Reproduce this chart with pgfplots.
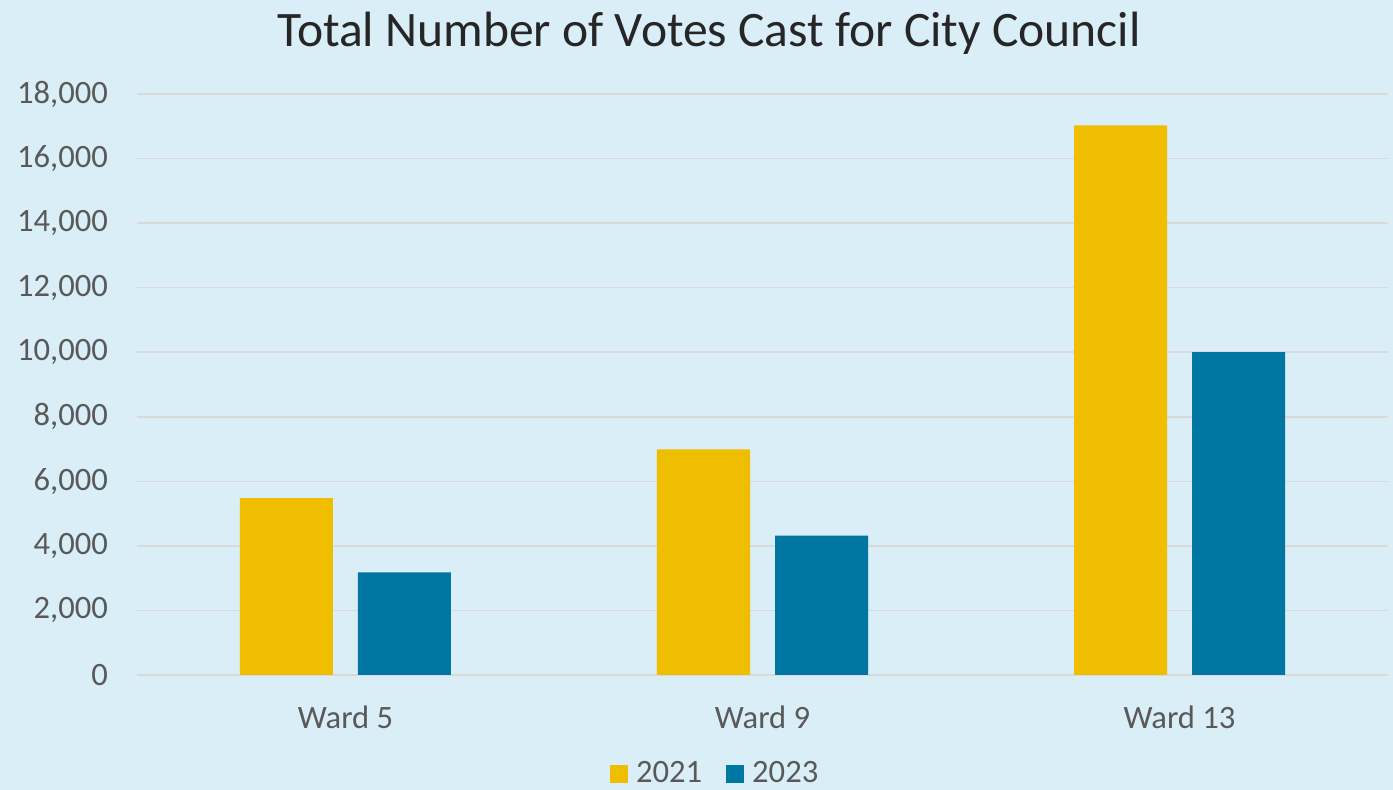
\documentclass[border=0pt]{standalone}
\usepackage{pgfplots}
\pgfplotsset{compat=1.18}
\usepackage{fontspec}
\setmainfont{Carlito}
\definecolor{bg}{HTML}{DAEEF8}
\definecolor{gold}{HTML}{F0BE00}
\definecolor{teal}{HTML}{0076A3}
\definecolor{txt}{HTML}{595959}
\definecolor{titc}{HTML}{262626}
\definecolor{gridc}{HTML}{D9D9D9}
\begin{document}
\begin{tikzpicture}
\useasboundingbox (-68.5pt,-57.5pt) rectangle (628pt,337.5pt);
\fill[bg] (-68.5pt,-57.5pt) rectangle (628pt,337.5pt);
\node[titc, font=\fontsize{24.8}{28}\selectfont] at (286pt,321pt) {Total Number of Votes Cast for City Council};
\begin{axis}[
    scale only axis,
    width=625.5pt, height=290.5pt,
    ybar=12.5pt, bar width=46.5pt,
    xmin=-0.5, xmax=2.5,
    ymin=0, ymax=18000,
    ytick={0,2000,...,18000},
    xtick={0,1,2},
    xticklabels={Ward 5, Ward 9, Ward 13},
    axis line style={draw=none},
    tick style={draw=none},
    ymajorgrids, grid style={gridc, line width=0.75pt},
    tick label style={txt, font=\fontsize{16.3}{19}\selectfont},
    yticklabel style={xshift=-11pt},
    xticklabel style={yshift=-7.5pt},
    /pgf/number format/assume math mode=true,
    /pgf/number format/1000 sep={,},
    scaled y ticks=false,
    legend style={at={(0.463,-0.170)}, anchor=center, draw=none, fill=none,
        legend columns=-1, font=\fontsize{16.3}{19}\selectfont, text=txt,
        /tikz/every even column/.append style={column sep=10pt}},
    legend image code/.code={\fill[#1] (0pt,-4.5pt) rectangle (9pt,4.5pt); \path (11pt,0pt);},
]
\addplot[fill=gold, draw=none] coordinates {(0,5480) (1,6990) (2,17030)};
\addplot[fill=teal, draw=none] coordinates {(0,3180) (1,4320) (2,10000)};
\legend{2021, 2023}
\end{axis}
\end{tikzpicture}
\end{document}
